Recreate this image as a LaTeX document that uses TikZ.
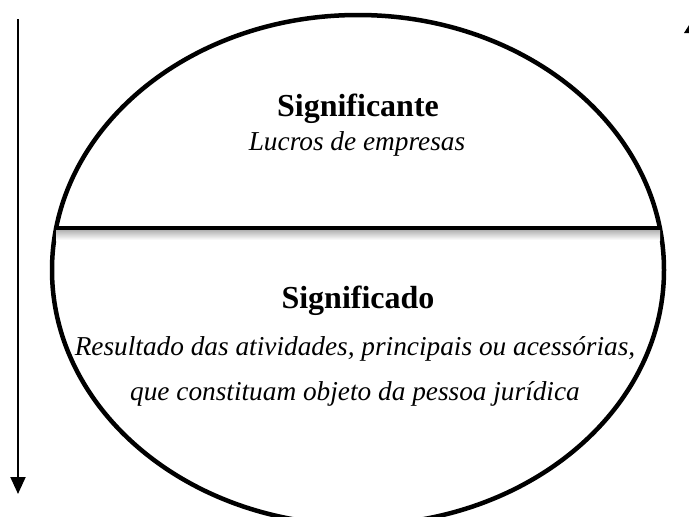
\documentclass[tikz,border=0pt]{standalone}
\usepackage{fontspec}
\setmainfont{Liberation Serif}
\usetikzlibrary{arrows.meta}
\begin{document}
\begin{tikzpicture}[x=1pt,y=-1pt,
  title/.style={font=\fontsize{32}{36}\selectfont\bfseries, inner sep=0pt, anchor=base},
  body/.style={font=\fontsize{27.3}{32}\selectfont\itshape, inner sep=0pt, anchor=base},
  outline/.style={line width=4.5pt, draw=black}]
\useasboundingbox (0,0) rectangle (689,517);
\clip (0,0) rectangle (689,517);
\fill[white] (0,0) rectangle (689,517);
% ellipse
\draw[outline] (358,270) ellipse [x radius=306, y radius=255];
% shadow under dividing line
\shade[top color=black!30, bottom color=white] (56,230) rectangle (660,240);
\coordinate (dl) at (54.2,228);
\coordinate (dr) at (661.8,228);
\draw[line width=4.5pt] (dl) -- (dr);
% texts
\node[title] (t1) at (358,116) {Significante};
\node[body] (b1) at (357,150) {Lucros de empresas};
\node[title] (t2) at (358,308) {Significado};
\node[body] (b2) at (355,355) {Resultado das atividades, principais ou acessórias,};
\node[body] (b3) at (355,400) {que constituam objeto da pessoa jurídica};
% left arrow
\coordinate (as) at (18,19);
\coordinate (ae) at (18,494);
\draw[line width=2pt, -{Triangle[length=17pt,width=15pt]}] (as) -- (ae);
% partial arrow head at top right
\fill (684,33) -- (691,22) -- (698,33) -- cycle;
\end{tikzpicture}
\end{document}
